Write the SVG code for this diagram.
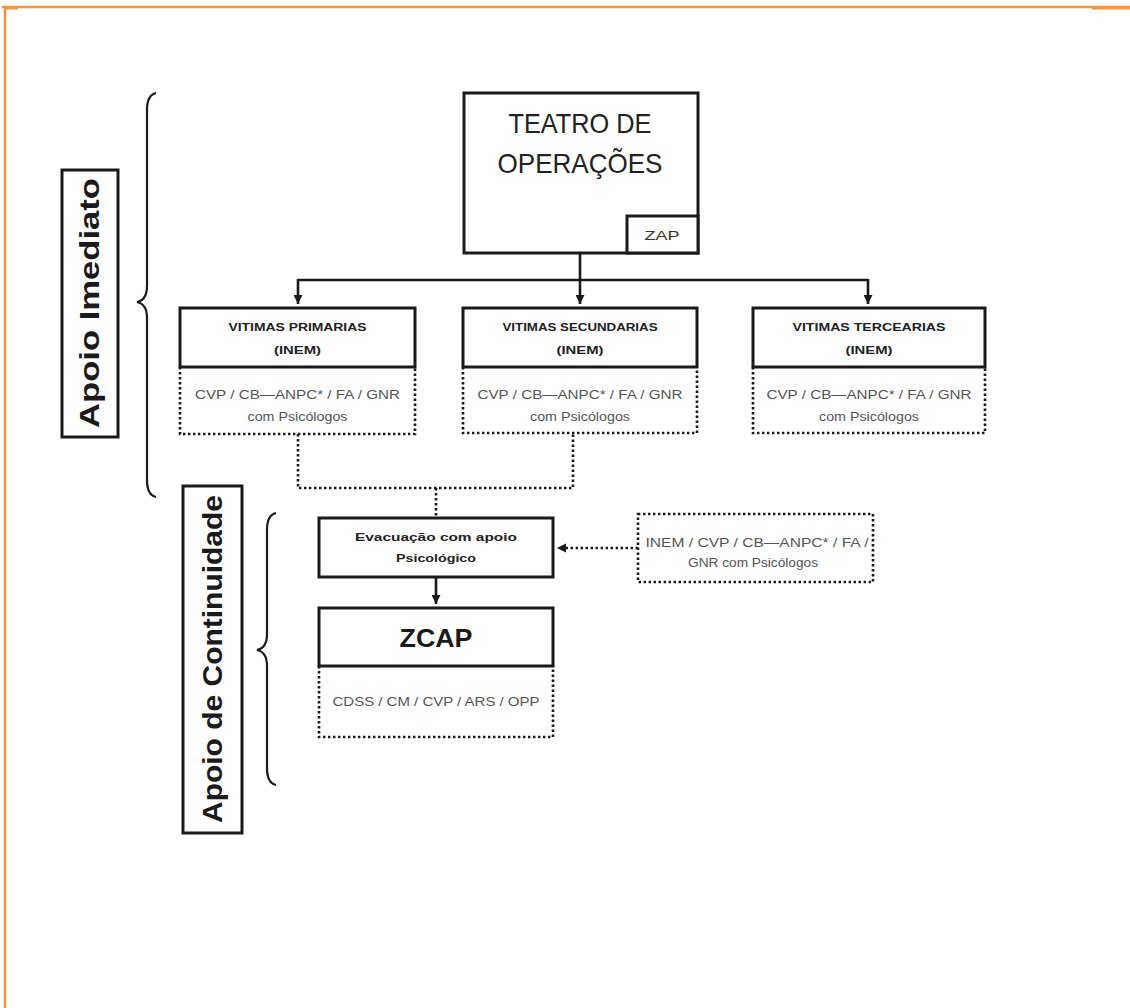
<svg xmlns="http://www.w3.org/2000/svg" width="1130" height="1008" viewBox="0 0 1130 1008">
  <style>
    .box { fill: #fff; stroke: #1a1a1a; stroke-width: 3; }
    .dot { fill: none; stroke: #1a1a1a; stroke-width: 2.6; stroke-dasharray: 2.4 2.6; }
    .line { fill: none; stroke: #1a1a1a; stroke-width: 2.6; }
    .brace { fill: none; stroke: #1a1a1a; stroke-width: 2.2; }
    .t { font-family: "Liberation Sans", Arial, sans-serif; text-anchor: middle; }
    .head { font-size: 11px; font-weight: bold; fill: #222; }
    .sub { font-size: 12px; fill: #555; }
    .side { font-size: 27px; font-weight: bold; fill: #1a1a1a; }
  </style>
  <defs>
    <marker id="arrow" viewBox="0 0 10 10" refX="10" refY="5" markerWidth="9" markerHeight="9" markerUnits="userSpaceOnUse" orient="auto">
      <path d="M0 0 L10 5 L0 10 Z" fill="#1a1a1a"/>
    </marker>
  </defs>

  <rect width="1130" height="1008" fill="#fff"/>

  <!-- page frame -->
  <g id="frame" stroke="#f5963f" fill="none">
    <line x1="2" y1="7" x2="1130" y2="7" stroke-width="2.5"/>
    <line x1="5" y1="6" x2="5" y2="1008" stroke-width="2.5"/>
    <line x1="5" y1="8.5" x2="18" y2="8.5" stroke-width="2"/>
    <line x1="1092" y1="8.5" x2="1130" y2="8.5" stroke-width="2"/>
  </g>

  <!-- connectors -->
  <g id="connectors">
    <line class="line" x1="580" y1="253" x2="580" y2="280"/>
    <line class="line" x1="298" y1="280" x2="868" y2="280"/>
    <line class="line" x1="298" y1="279" x2="298" y2="304" marker-end="url(#arrow)"/>
    <line class="line" x1="580" y1="279" x2="580" y2="304" marker-end="url(#arrow)"/>
    <line class="line" x1="868" y1="279" x2="868" y2="304" marker-end="url(#arrow)"/>
    <path class="dot" d="M298 434 L298 488 L573 488 L573 434"/>
    <line class="dot" x1="436" y1="488" x2="436" y2="518"/>
    <line class="line" x1="436" y1="577" x2="436" y2="604" marker-end="url(#arrow)"/>
    <line class="dot" x1="638" y1="548" x2="566" y2="548"/>
    <path d="M557 548 L566 543.5 L566 552.5 Z" fill="#1a1a1a"/>
  </g>

  <!-- side labels and braces -->
  <g id="apoio-imediato">
    <rect class="box" x="62" y="170" width="56" height="267"/>
    <text class="t side" transform="translate(99 303) rotate(-90)" textLength="250" lengthAdjust="spacingAndGlyphs">Apoio Imediato</text>
    <path class="brace" d="M156 93 Q147 95 147 110 L147 286 Q147 300 137 302 Q147 304 147 318 L147 480 Q147 495 156 497"/>
  </g>
  <g id="apoio-continuidade">
    <rect class="box" x="183" y="486" width="59" height="347"/>
    <text class="t side" transform="translate(222 659) rotate(-90)" textLength="328" lengthAdjust="spacingAndGlyphs">Apoio de Continuidade</text>
    <path class="brace" d="M276 513 Q267 515 267 530 L267 634 Q267 648 257 650 Q267 652 267 666 L267 768 Q267 783 276 785"/>
  </g>

  <!-- theatre of operations -->
  <g id="teatro">
    <rect class="box" x="464" y="93" width="234" height="160"/>
    <text class="t" x="580" y="133" font-size="28" fill="#222" textLength="143" lengthAdjust="spacingAndGlyphs">TEATRO DE</text>
    <text class="t" x="580" y="173" font-size="28" fill="#222" textLength="165" lengthAdjust="spacingAndGlyphs">OPERAÇÕES</text>
    <rect class="box" x="627" y="216" width="71" height="37"/>
    <text class="t" x="662" y="240" font-size="13" fill="#333" textLength="35" lengthAdjust="spacingAndGlyphs">ZAP</text>
  </g>

  <!-- victims -->
  <g id="vitimas-primarias">
    <path class="dot" d="M180 367 L180 434 L415 434 L415 367"/>
    <rect class="box" x="180" y="308" width="235" height="59"/>
    <text class="t head" x="297.5" y="331" textLength="138" lengthAdjust="spacingAndGlyphs">VITIMAS PRIMARIAS</text>
    <text class="t head" x="297.5" y="354" textLength="47" lengthAdjust="spacingAndGlyphs">(INEM)</text>
    <text class="t sub" x="297.5" y="399" textLength="205" lengthAdjust="spacingAndGlyphs">CVP / CB—ANPC* / FA / GNR</text>
    <text class="t sub" x="297.5" y="421" textLength="100" lengthAdjust="spacingAndGlyphs">com Psicólogos</text>
  </g>
  <g id="vitimas-secundarias">
    <path class="dot" d="M463 367 L463 433 L697 433 L697 367"/>
    <rect class="box" x="463" y="308" width="234" height="59"/>
    <text class="t head" x="580" y="331" textLength="155" lengthAdjust="spacingAndGlyphs">VITIMAS SECUNDARIAS</text>
    <text class="t head" x="580" y="354" textLength="47" lengthAdjust="spacingAndGlyphs">(INEM)</text>
    <text class="t sub" x="580" y="399" textLength="205" lengthAdjust="spacingAndGlyphs">CVP / CB—ANPC* / FA / GNR</text>
    <text class="t sub" x="580" y="421" textLength="100" lengthAdjust="spacingAndGlyphs">com Psicólogos</text>
  </g>
  <g id="vitimas-tercearias">
    <path class="dot" d="M753 367 L753 433 L985 433 L985 367"/>
    <rect class="box" x="753" y="308" width="232" height="59"/>
    <text class="t head" x="869" y="331" textLength="153" lengthAdjust="spacingAndGlyphs">VITIMAS TERCEARIAS</text>
    <text class="t head" x="869" y="354" textLength="47" lengthAdjust="spacingAndGlyphs">(INEM)</text>
    <text class="t sub" x="869" y="399" textLength="205" lengthAdjust="spacingAndGlyphs">CVP / CB—ANPC* / FA / GNR</text>
    <text class="t sub" x="869" y="421" textLength="100" lengthAdjust="spacingAndGlyphs">com Psicólogos</text>
  </g>

  <!-- evacuation -->
  <g id="evacuacao">
    <rect class="box" x="319" y="518" width="234" height="59"/>
    <text class="t head" x="436" y="541" textLength="162" lengthAdjust="spacingAndGlyphs">Evacuação com apoio</text>
    <text class="t head" x="436" y="562" textLength="80" lengthAdjust="spacingAndGlyphs">Psicológico</text>
  </g>

  <!-- support teams -->
  <g id="equipas-apoio">
    <rect class="dot" x="638" y="514" width="235" height="68"/>
    <text class="t sub" x="757" y="547" textLength="223" lengthAdjust="spacingAndGlyphs">INEM / CVP / CB—ANPC* / FA /</text>
    <text class="t sub" x="753" y="567" textLength="130" lengthAdjust="spacingAndGlyphs">GNR com Psicólogos</text>
  </g>

  <!-- ZCAP -->
  <g id="zcap">
    <path class="dot" d="M319 666 L319 737 L553 737 L553 666"/>
    <rect class="box" x="319" y="608" width="234" height="58"/>
    <text class="t" x="436" y="647" font-size="25" font-weight="bold" fill="#1a1a1a" textLength="73" lengthAdjust="spacingAndGlyphs">ZCAP</text>
    <text class="t sub" x="436" y="706" textLength="207" lengthAdjust="spacingAndGlyphs">CDSS / CM / CVP / ARS / OPP</text>
  </g>
</svg>
